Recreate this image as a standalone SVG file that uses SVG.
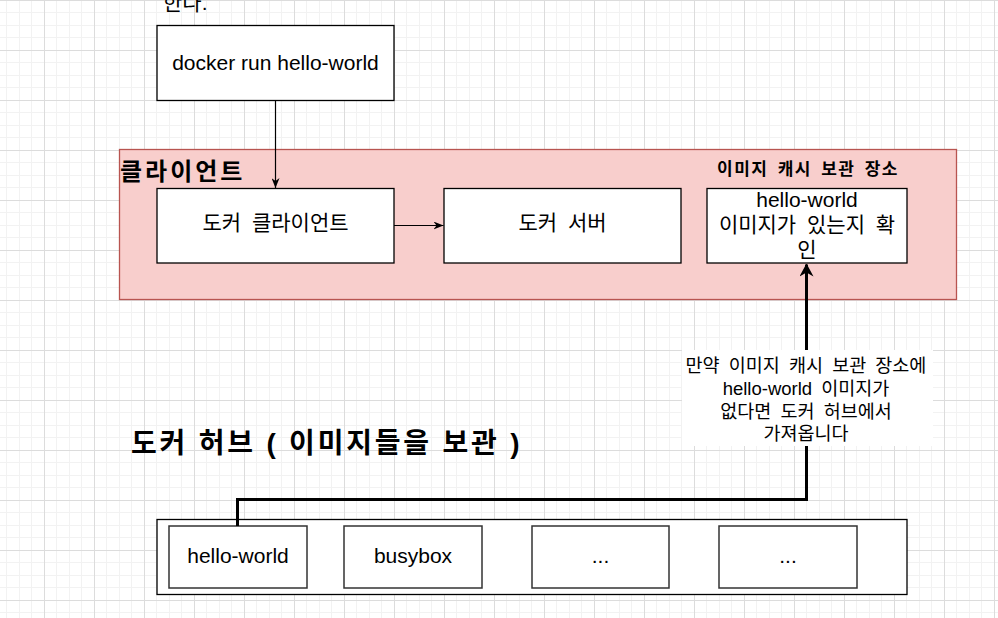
<svg xmlns="http://www.w3.org/2000/svg" width="998" height="618" viewBox="0 0 998 618">
<style>
text{font-family:"Liberation Sans","Noto Sans CJK KR",sans-serif;fill:#000}
.box{fill:#fff;stroke:#000;stroke-width:1.3}
.inner{fill:#fff;stroke:#333;stroke-width:1.5}
.t21{font-size:21px;text-anchor:middle}
.lbl{font-size:18.5px;text-anchor:middle}
.b{font-weight:bold}
.edge{fill:none;stroke:#000;stroke-width:1.2}
.thick{fill:none;stroke:#000;stroke-width:3}
</style>
<defs>
<pattern id="grid" patternUnits="userSpaceOnUse" x="44" y="0" width="50" height="50">
<rect width="50" height="50" fill="#fff"/>
<rect x="12" y="0" width="1" height="50" fill="#f2f2f2"/>
<rect x="25" y="0" width="1" height="50" fill="#f2f2f2"/>
<rect x="37" y="0" width="1" height="50" fill="#f2f2f2"/>
<rect x="0" y="12" width="50" height="1" fill="#f2f2f2"/>
<rect x="0" y="25" width="50" height="1" fill="#f2f2f2"/>
<rect x="0" y="37" width="50" height="1" fill="#f2f2f2"/>
<rect x="0" y="0" width="1" height="50" fill="#dcdcdc"/>
<rect x="0" y="0" width="50" height="1" fill="#dcdcdc"/>
</pattern>
<marker id="arr" markerUnits="userSpaceOnUse" viewBox="0 0 10 8" markerWidth="10" markerHeight="8" refX="10" refY="4" orient="auto">
<path d="M0,0 L10,4 L0,8 L3,4 Z" fill="#000"/>
</marker>
<marker id="arrBig" markerUnits="userSpaceOnUse" viewBox="0 0 13 14" markerWidth="13" markerHeight="14" refX="12" refY="7" orient="auto">
<path d="M0,0 L13,7 L0,14 L4,7 Z" fill="#000"/>
</marker>
</defs>
<rect width="998" height="618" fill="url(#grid)"/>

<text x="163" y="10" font-size="21">한다.</text>

<g id="client-group">
<rect x="119.5" y="149.5" width="837" height="150" fill="#f8cecc" stroke="#b85450" stroke-width="1.3"/>
<text x="120" y="180" font-size="24" class="b" letter-spacing="3">클라이언트</text>
<text x="808" y="175" font-size="17" class="b" text-anchor="middle" word-spacing="3" letter-spacing="1.5">이미지 캐시 보관 장소</text>
</g>

<g id="docker-run">
<rect class="box" x="157" y="25.5" width="237" height="75"/>
<text class="t21" x="275.5" y="70">docker run hello-world</text>
</g>

<g id="docker-client">
<rect class="box" x="157" y="188.5" width="237" height="74.5"/>
<text class="t21" x="275.5" y="230" word-spacing="5">도커 클라이언트</text>
</g>

<g id="docker-server">
<rect class="box" x="444" y="188.5" width="237" height="74.5"/>
<text class="t21" x="562.5" y="230" word-spacing="5">도커 서버</text>
</g>

<g id="cache-check">
<rect class="box" x="707" y="188.5" width="200" height="74.5"/>
<text class="t21" x="807" y="207">hello-world</text>
<text class="t21" x="807" y="232" word-spacing="5">이미지가 있는지 확</text>
<text class="t21" x="807" y="257">인</text>
</g>

<g id="hub-title">
<text x="131" y="453" font-size="28" class="b" letter-spacing="2.8">도커 허브 ( 이미지들을 보관 )</text>
</g>

<g id="docker-hub">
<rect class="box" x="157" y="519.5" width="750" height="75"/>
</g>
<g id="img-hello-world">
<rect class="inner" x="169" y="526" width="138" height="62"/>
<text class="t21" x="238" y="563">hello-world</text>
</g>
<g id="img-busybox">
<rect class="inner" x="344" y="526" width="138" height="62"/>
<text class="t21" x="413" y="563">busybox</text>
</g>
<g id="img-etc1">
<rect class="inner" x="532" y="526" width="137" height="62"/>
<text class="t21" x="600.5" y="563">...</text>
</g>
<g id="img-etc2">
<rect class="inner" x="719" y="526" width="138" height="62"/>
<text class="t21" x="788" y="563">...</text>
</g>

<g id="connectors">
<path class="edge" d="M275.5,100.5 L275.5,188" marker-end="url(#arr)"/>
<path class="edge" d="M394,225.5 L443.5,225.5" marker-end="url(#arr)"/>
<path class="thick" d="M237.5,526 L237.5,499.5 L806.5,499.5 L806.5,264.5" marker-end="url(#arrBig)"/>
<rect x="682" y="350" width="251" height="96" fill="#fff"/>
<text class="lbl" x="806" y="372" word-spacing="4">만약 이미지 캐시 보관 장소에</text>
<text class="lbl" x="806" y="395" word-spacing="4">hello-world 이미지가</text>
<text class="lbl" x="806" y="418" word-spacing="4">없다면 도커 허브에서</text>
<text class="lbl" x="806" y="440">가져옵니다</text>
</g>
</svg>
